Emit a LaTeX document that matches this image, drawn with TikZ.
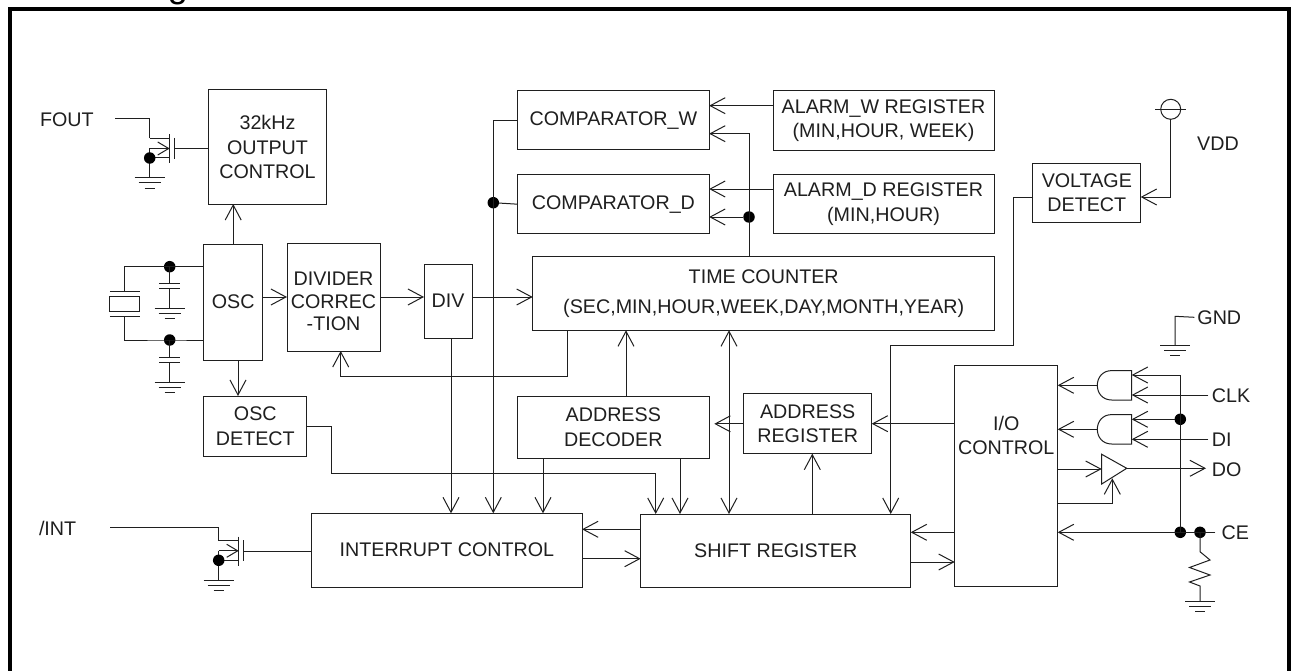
\documentclass[tikz,border=0pt]{standalone}
\usepackage{fontspec}
\setmainfont{Liberation Sans}
\usetikzlibrary{arrows.meta}
\tikzset{
	every node/.style={font=\fontsize{19.7}{24.5}\selectfont, align=center, inner sep=0pt, outer sep=0pt},
	blk/.style={draw, rectangle},
	dot/.style={circle, fill=black, minimum size=11.5pt},
	gnd/.pic={
		\draw (-15,0) -- (15,0);
		\draw (-11,5) -- (11,5);
		\draw (-5,10) -- (5,10);
	},
	capgnd/.pic={
		\draw (0,0) -- (0,17);
		\draw (-10.5,17) -- (10.5,17);
		\draw (-10.5,22) -- (10.5,22);
		\draw (0,22) -- (0,42);
		\pic at (0,42) {gnd};
	},
	fet/.pic={
		\draw (0,-19.5) -- (20,-19.5);
		\draw (20,-23.7) -- (20,5.5);
		\draw (25,-20) -- (25,1);
		\draw [-{Straight Barb[length=11pt,width=13pt]}] (0,-9.5) -- (20,-9.5);
		\draw (0,-9.5) -- (0,20);
		\draw (0,0) -- (20,0);
		\pic at (0,20) {gnd};
	},
	andgate/.pic={
		\draw (0,-14.7) -- (-20,-14.7) .. controls (-29,-14.7) and (-34.4,-8) .. (-34.4,0)
			.. controls (-34.4,8) and (-29,14.7) .. (-20,14.7) -- (0,14.7) -- cycle;
	}
}
\begin{document}
\begin{tikzpicture}[x=1pt, y=-1pt, line width=1pt, color=black!88, >={Straight Barb[length=15pt,width=16pt]}]
	\useasboundingbox (0,0) rectangle (1297,671);
	\fill[white] (0,0) rectangle (1297,671);
	\node[anchor=base, font=\fontsize{36}{36}\selectfont, text=black] (Title) at (178,-2.6) {g};
	\draw[black, line width=4pt] (10.3,680) -- (10.3,9) -- (1289.3,9) -- (1289.3,680);

	% left side, output and oscillator
	\node[anchor=west] (FOUT) at (40,120) {FOUT};
	\node[blk, minimum width=118pt, minimum height=114pt] (Out) at (267.5,147) {32kHz\\OUTPUT\\CONTROL};
	\pic at (149.7,158) {fet};
	\node[dot] (FOUTd) at (149.7,158) {};
	\coordinate (FOUTa) at (115,118.7);
	\draw (FOUTa) -- (149.7,118.7) -- (149.7,138.5);
	\coordinate (FOUTg) at (174.7,148.3);
	\draw (FOUTg) -- (FOUTg -| Out.west);

	\node[blk, minimum width=59pt, minimum height=116pt] (OSC) at (233.2,302) {OSC};
	\draw [->] (OSC.north) -- (OSC.north |- Out.south);
	\node[blk, minimum width=103.3pt, minimum height=60pt] (OSCd) at (255.3,426) {OSC\\DETECT};
	\coordinate (OSCa) at (238,360);
	\draw [->] (OSCa) -- (OSCa |- OSCd.north);
	\node[blk, minimum width=93pt, minimum height=108pt, label={[yshift=-4.7pt]center:DIVIDER\\[-2pt]CORREC\\[-2pt]-TION}] (Div) at (333.5,297) {};
	\draw [->] (Div.west -| OSC.east) -- (Div.west);

	% crystal
	\node[dot] (X1) at (169.7,266.7) {};
	\node[dot] (X2) at (169.7,340) {};
	\node[blk, minimum width=30pt, minimum height=14.7pt] (Xtal) at (124.8,304.3) {};
	\coordinate (XT) at (124.8,291.7);
	\coordinate (XB) at (124.8,316.5);
	\draw ([xshift=-15pt]XT) -- ([xshift=15pt]XT);
	\draw ([xshift=-15pt]XB) -- ([xshift=15pt]XB);
	\draw (XT) |- (X1.center) -- (X1 -| OSC.west);
	\draw (XB) |- (X2.center) -- (X2 -| OSC.west);
	\pic at (169.7,266.7) {capgnd};
	\pic at (169.7,340) {capgnd};

	% comparators and alarm registers
	\node[blk, minimum width=191.5pt, minimum height=59pt] (CmpW) at (613.4,120.5) {COMPARATOR\_W};
	\node[blk, minimum width=191.5pt, minimum height=59pt] (CmpD) at (613.4,204.2) {COMPARATOR\_D};
	\node[blk, minimum width=221pt, minimum height=59.5pt] (AlmW) at (883.5,120.7) {ALARM\_W REGISTER\\(MIN,HOUR, WEEK)};
	\node[blk, minimum width=221pt, minimum height=59pt] (AlmD) at (883.5,204.2) {ALARM\_D REGISTER\\(MIN,HOUR)};
	\coordinate (AWa) at (773,105.7);
	\draw [->] (AWa) -- (AWa -| CmpW.east);
	\coordinate (ADa) at (773,189);
	\draw [->] (ADa) -- (ADa -| CmpD.east);

	% counter
	\node[blk, minimum width=462pt, minimum height=73.6pt] (TC) at (763.7,293.5) {TIME COUNTER\\[6pt](SEC,MIN,HOUR,WEEK,DAY,MONTH,YEAR)};
	\node[blk, minimum width=48pt, minimum height=74pt] (DivB) at (448,301) {DIV};
	\draw [->] (Div.east) -- (Div.east -| DivB.west);
	\draw [->] (DivB.east |- Div.east) -- (Div.east -| TC.west);
	\node[dot] (TCd) at (749,217) {};
	\coordinate (TCa) at (749,256.7);
	\draw [->] (TCa) -- (749,133.7) -- (749,133.7 -| CmpW.east);
	\draw [->] (TCd) -- (TCd -| CmpD.east);
	\coordinate (TCb) at (567.3,330.3);
	\coordinate (DivC) at (340.7,351);
	\draw [->] (TCb) -- (567.3,376.7) -- (340.7,376.7) -- (DivC);

	% bottom row
	\node[blk, minimum width=270.3pt, minimum height=73.7pt] (Int) at (446.9,550.2) {INTERRUPT CONTROL};
	\node[blk, minimum width=270pt, minimum height=73pt] (SR) at (775.7,550.5) {SHIFT REGISTER};
	\node[anchor=west] (INT) at (39,528.7) {/INT};
	\pic at (218.7,560.3) {fet};
	\node[dot] (INTd) at (218.7,560.3) {};
	\coordinate (INTa) at (110,527.3);
	\draw (INTa) -- (218.7,527.3) -- (218.7,540.8);
	\coordinate (INTg) at (243.7,551.3);
	\draw (INTg) -- (INTg -| Int.west);
	\coordinate (DivD) at (451,338);
	\draw [->] (DivD) -- (DivD |- Int.north);
	\node[dot] (CmpJ) at (493.3,202.7) {};
	\draw [->] (CmpW.west) -- (493.3,120.5) -- (493.3,513.3);
	\draw (CmpJ) -- (CmpD.west);
	\draw [->] (OSCd.east) -- (331.7,426) -- (331.7,473.7) -- (655.7,473.7) -- (655.7,514);

	\node[blk, minimum width=192pt, minimum height=62pt] (AD) at (613.3,427.3) {ADDRESS\\DECODER};
	\node[blk, minimum width=128pt, minimum height=59.7pt] (AR) at (807.7,423.8) {ADDRESS\\REGISTER};
	\draw [->] (AD.north -| 626,0) -- (626,330.3);
	\draw [shorten >=5pt, ->] (AR.west) -- (AR.west -| AD.east);
	\coordinate (ADl) at (543,458.3);
	\draw [->] (ADl) -- (ADl |- Int.north);
	\coordinate (ADr) at (680,458.3);
	\draw [->] (ADr) -- (ADr |- SR.north);
	\coordinate (TCr) at (729,330.3);
	\draw [<->] (TCr) -- (TCr |- SR.north);
	\coordinate (SRu) at (812.3,514);
	\draw [->] (SRu) -- (SRu |- AR.south);
	\coordinate (SRl) at (640.7,529.3);
	\draw [->] (SRl) -- (SRl -| Int.east);
	\coordinate (Intr) at (582,558.7);
	\draw [->] (Intr) -- (Intr -| SR.west);

	% voltage detect
	\node[blk, minimum width=107.7pt, minimum height=59.7pt] (Volt) at (1086.8,192.9) {VOLTAGE\\DETECT};
	\node[draw, circle, minimum size=20pt] (VDDc) at (1170.7,109.3) {};
	\draw ([xshift=-5.5pt]VDDc.west) -- ([xshift=5.5pt]VDDc.east);
	\node (VDD) at (1218,144) {VDD};
	\coordinate (VDDa) at (1170.7,197);
	\draw [->] (VDDc.south) -- (VDDa) -- (VDDa -| Volt.east);
	\coordinate (VoltL) at (1033,197);
	\draw [->] (VoltL) -- (1013.7,197) -- (1013.7,345) -- (890.7,345) -- (890.7,514);

	% io block and pins
	\node[blk, minimum width=103pt, minimum height=221pt, label={[yshift=40.5pt]center:I/O\\[-1pt]CONTROL}] (IO) at (1006.2,476.2) {};
	\coordinate (IOa) at (954.7,423.7);
	\draw [->] (IOa) -- (IOa -| AR.east);
	\coordinate (IOb) at (954.7,532.3);
	\draw [->] (IOb) -- (IOb -| SR.east);
	\coordinate (SRr) at (910.7,562);
	\draw [->] (SRr) -- (SRr -| IO.west);
	\node (GND) at (1219.3,317.3) {GND};
	\draw ([xshift=-3pt]GND.west) -- (1175,316.3) -- (1175,345.7);
	\pic at (1175,345.7) {gnd};
	\node (CLK) at (1231,396) {CLK};
	\node (DI) at (1221.7,439.7) {DI};
	\node (DO) at (1226.7,469.3) {DO};
	\node (CE) at (1235.3,532.7) {CE};
	\pic at (1131.7,385.3) {andgate};
	\pic at (1131.7,429.3) {andgate};
	\coordinate (A1) at (1097.3,385.3);
	\coordinate (A2) at (1097.3,429.3);
	\draw [->] (A1) -- (A1 -| IO.east);
	\draw [->] (A2) -- (A2 -| IO.east);
	\node[dot] (Jd) at (1180.3,419.3) {};
	\node[dot] (Je) at (1180.3,532.3) {};
	\node[dot] (Jr) at (1200,532.3) {};
	\coordinate (CLKa) at (1208.3,395);
	\coordinate (DIa) at (1208.3,439.3);
	\coordinate (CEa) at (1215.3,532.3);
	\draw [->] (Je.center) -- (1180.3,375) -- (1131.7,375);
	\draw [->] (Jd) -- (1131.7,419.3);
	\draw [->] (CLKa) -- (1131.7,395);
	\draw [->] (DIa) -- (1131.7,439.3);
	\coordinate (B1) at (1101.7,454.3);
	\coordinate (B2) at (1101.7,484);
	\coordinate (B3) at (1126.7,468.3);
	\draw (B1) -- (B3) -- (B2) -- cycle;
	\draw [->] (IO.east |- 0,469) -- (1101.7,469);
	\draw [->] (IO.east |- 0,503.3) -- (1112.3,503.3) -- (1112.3,478.3);
	\draw [->] (B3) -- (1206,468.3);
	\draw [->] (CEa) -- (Je -| IO.east);
	\draw (Jr.center) -- (1200,551.7) -- (1210,560) -- (1189.5,567.5) -- (1210,575) -- (1189.5,582) -- (1200,586) -- (1200,601.7);
	\pic at (1200,601.7) {gnd};
\end{tikzpicture}
\end{document}
